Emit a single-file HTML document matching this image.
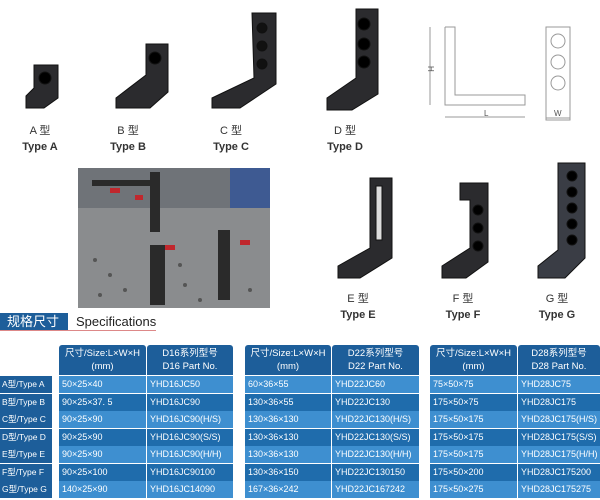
<!DOCTYPE html>
<html><head><meta charset="utf-8"><style>
body{margin:0;width:600px;height:500px;background:#fff;position:relative;overflow:hidden;font-family:"Liberation Sans","Noto Sans CJK SC",sans-serif}
.l{position:absolute;font-size:11px;color:#333;text-align:center;width:80px}
.c{position:absolute;color:#fff;font-size:9px;line-height:17px;box-sizing:border-box;padding-left:3px;white-space:nowrap;overflow:hidden}
.h{position:absolute;background:#1d5e9a;color:#fff;font-size:9.5px;text-align:center;line-height:13px;padding-top:2px;box-sizing:border-box;border-radius:3px 3px 0 0}
</style></head><body>
<svg width="600" height="320" style="position:absolute;left:0;top:0">
<g fill="#2b2b2e" stroke="#111" stroke-width="1">
<polygon points="34,65 58,65 58,98 44,108 26,108 26,96 34,88"/>
<circle cx="45" cy="78" r="6" fill="#000"/>
<polygon points="146,44 168,44 168,92 150,108 116,108 116,98 146,75"/>
<circle cx="155" cy="58" r="6" fill="#000"/>
<polygon points="252,13 276,13 276,84 240,108 212,108 212,98 254,78"/>
<circle cx="262" cy="28" r="5" fill="#111"/><circle cx="262" cy="46" r="5" fill="#111"/><circle cx="262" cy="64" r="5" fill="#111"/>
<polygon points="356,9 378,9 378,94 352,110 327,110 327,98 356,78"/>
<circle cx="364" cy="24" r="6" fill="#000"/><circle cx="364" cy="44" r="6" fill="#000"/><circle cx="364" cy="62" r="6" fill="#000"/>
<polygon points="370,178 392,178 392,258 360,278 338,278 338,266 370,248"/>
<rect x="376" y="186" width="6" height="54" fill="#ddd"/>
<polygon points="460,183 488,183 488,262 466,278 442,278 442,266 470,248 470,200 460,200"/>
<circle cx="478" cy="210" r="5" fill="#000"/><circle cx="478" cy="228" r="5" fill="#000"/><circle cx="478" cy="246" r="5" fill="#000"/>
<polygon points="558,163 585,163 585,258 565,278 538,278 538,266 558,250" fill="#3a3d45"/>
<circle cx="572" cy="176" r="5" fill="#000"/><circle cx="572" cy="192" r="5" fill="#000"/><circle cx="572" cy="208" r="5" fill="#000"/><circle cx="572" cy="224" r="5" fill="#000"/><circle cx="572" cy="240" r="5" fill="#000"/>
</g>
<g fill="none" stroke="#999" stroke-width="1">
<polyline points="445,27 455,27 455,95 525,95 525,105 445,105 445,27"/>
<line x1="430" y1="27" x2="430" y2="105"/>
<line x1="445" y1="117" x2="525" y2="117"/>
<rect x="546" y="27" width="24" height="93"/>
<circle cx="558" cy="41" r="7"/><circle cx="558" cy="62" r="7"/><circle cx="558" cy="83" r="7"/>
<line x1="546" y1="118" x2="570" y2="118"/>
</g>
<text x="428" y="66" font-size="8" fill="#555" transform="rotate(90 428 66)">H</text>
<text x="484" y="116" font-size="8" fill="#555">L</text>
<text x="554" y="116" font-size="8" fill="#555">W</text>
<rect x="78" y="168" width="192" height="140" fill="#8a8c8e"/>
<rect x="78" y="168" width="192" height="40" fill="#6f7378"/>
<rect x="230" y="168" width="40" height="40" fill="#3e5a92"/>
<g fill="#555"><circle cx="95" cy="260" r="2"/><circle cx="110" cy="275" r="2"/><circle cx="125" cy="290" r="2"/><circle cx="185" cy="285" r="2"/><circle cx="200" cy="300" r="2"/><circle cx="250" cy="290" r="2"/><circle cx="100" cy="295" r="2"/><circle cx="180" cy="265" r="2"/></g>
<g fill="#2a2a2a"><rect x="150" y="245" width="15" height="60"/><rect x="218" y="230" width="12" height="70"/><rect x="150" y="172" width="10" height="60"/><rect x="92" y="180" width="60" height="6"/></g>
<g fill="#c0272d"><rect x="110" y="188" width="10" height="5"/><rect x="135" y="195" width="8" height="5"/><rect x="165" y="245" width="10" height="5"/><rect x="240" y="240" width="10" height="5"/></g>
</svg>
<div class="l" style="left:0px;top:122px">A 型</div><div class="l" style="left:0px;top:141px;font-weight:bold">Type A</div>
<div class="l" style="left:88px;top:122px">B 型</div><div class="l" style="left:88px;top:141px;font-weight:bold">Type B</div>
<div class="l" style="left:191px;top:122px">C 型</div><div class="l" style="left:191px;top:141px;font-weight:bold">Type C</div>
<div class="l" style="left:305px;top:122px">D 型</div><div class="l" style="left:305px;top:141px;font-weight:bold">Type D</div>
<div class="l" style="left:318px;top:290px">E 型</div><div class="l" style="left:318px;top:309px;font-weight:bold">Type E</div>
<div class="l" style="left:423px;top:290px">F 型</div><div class="l" style="left:423px;top:309px;font-weight:bold">Type F</div>
<div class="l" style="left:517px;top:290px">G 型</div><div class="l" style="left:517px;top:309px;font-weight:bold">Type G</div>
<div style="position:absolute;left:0px;top:313px;width:68px;height:17px;background:#1d5e9a;color:#fff;font-size:13px;line-height:17px;padding-left:7px;box-sizing:border-box">规格尺寸</div>
<div style="position:absolute;left:76px;top:313px;font-size:13px;color:#222;line-height:18px">Specifications</div>
<div style="position:absolute;left:0px;top:330px;width:156px;height:1px;background:#d88"></div>
<div id="t"></div>
<script>
var H=[[59,87,'尺寸/Size:L×W×H<br>(mm)'],[147,86,'D16系列型号<br>D16 Part No.'],[245,86,'尺寸/Size:L×W×H<br>(mm)'],[332,87,'D22系列型号<br>D22 Part No.'],[430,87,'尺寸/Size:L×W×H<br>(mm)'],[518,82,'D28系列型号<br>D28 Part No.']];
var D=[["A型/Type A","50×25×40","YHD16JC50","60×36×55","YHD22JC60","75×50×75","YHD28JC75"],
["B型/Type B","90×25×37. 5","YHD16JC90","130×36×55","YHD22JC130","175×50×75","YHD28JC175"],
["C型/Type C","90×25×90","YHD16JC90(H/S)","130×36×130","YHD22JC130(H/S)","175×50×175","YHD28JC175(H/S)"],
["D型/Type D","90×25×90","YHD16JC90(S/S)","130×36×130","YHD22JC130(S/S)","175×50×175","YHD28JC175(S/S)"],
["E型/Type E","90×25×90","YHD16JC90(H/H)","130×36×130","YHD22JC130(H/H)","175×50×175","YHD28JC175(H/H)"],
["F型/Type F","90×25×100","YHD16JC90100","130×36×150","YHD22JC130150","175×50×200","YHD28JC175200"],
["G型/Type G","140×25×90","YHD16JC14090","167×36×242","YHD22JC167242","175×50×275","YHD28JC175275"]];
var s='';H.forEach(function(h){s+='<div class="h" style="left:'+h[0]+'px;top:345px;width:'+h[1]+'px;height:30px">'+h[2]+'</div>'});
D.forEach(function(r,i){var y=376+i*17.5,dk=i%2==1;
s+='<div class="c" style="left:0px;top:'+y+'px;width:52px;height:17px;background:#1d5e9a;font-size:8.5px;padding-left:2px">'+r[0]+'</div>';
for(var j=1;j<7;j++){var h=H[j-1];s+='<div class="c" style="left:'+h[0]+'px;top:'+y+'px;width:'+h[1]+'px;height:17px;background:'+(dk?'#1f6cac':'#3e8fd0')+'">'+r[j]+'</div>';}});
document.getElementById('t').innerHTML=s;
</script>
</body></html>
